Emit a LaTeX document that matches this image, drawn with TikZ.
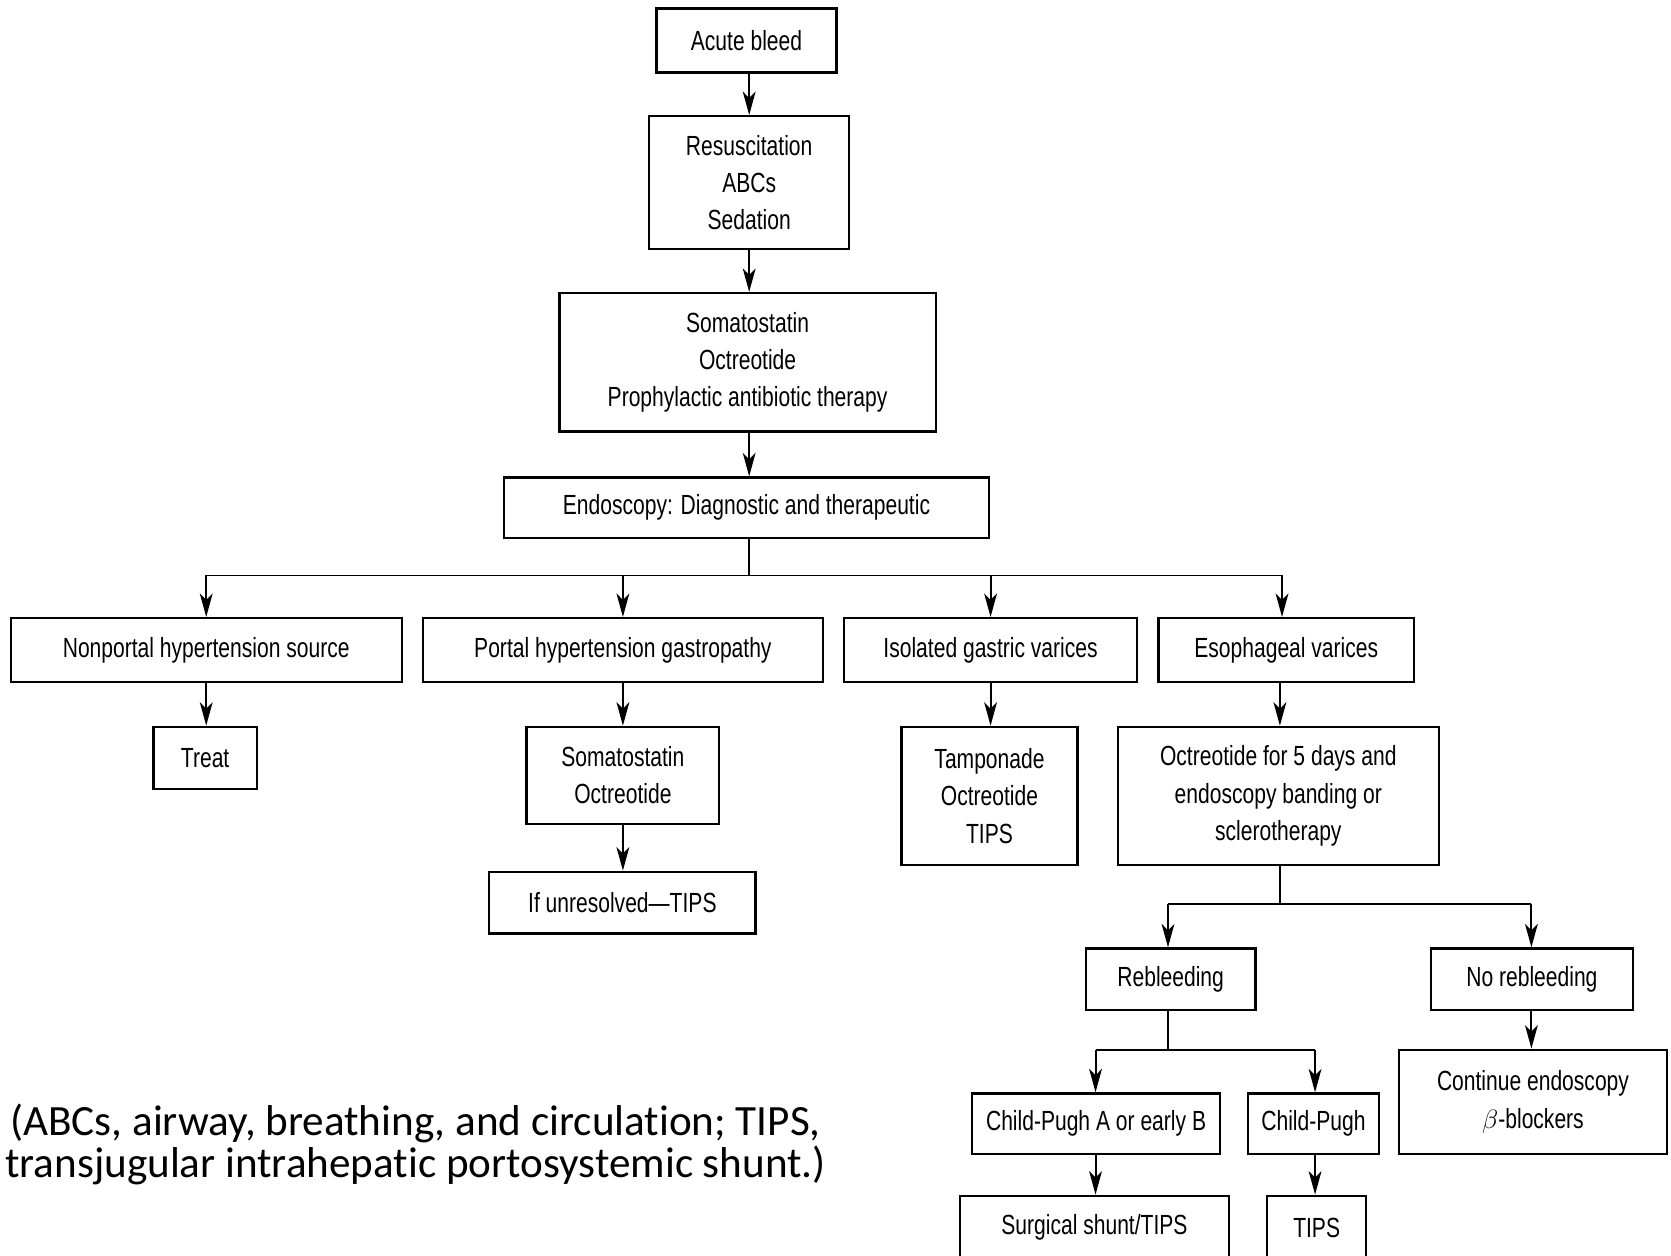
\documentclass[tikz,border=0pt]{standalone}
\usepackage{fontspec}
\setmainfont{Liberation Sans}
\newfontfamily\cond[FakeStretch=0.76]{Liberation Sans}
\newfontfamily\notefont[Ligatures=NoCommon]{Carlito}
\usetikzlibrary{arrows.meta}
\begin{document}
\begin{tikzpicture}[x=1pt,y=-1pt,
  box/.style={draw,line width=2.1pt,inner sep=0pt,align=center,
    font=\cond\fontsize{26}{35}\selectfont},
  arr/.style={line width=1.8pt,-{Stealth[length=22pt,width=12pt,inset=6pt]}},
  ln/.style={line width=1.8pt}]
\useasboundingbox (0,0) rectangle (1568,1178);
% nodes
\node[box,minimum width=169pt,minimum height=60pt] (acute) at (700.5,38) {Acute bleed};
\node[box,minimum width=188pt,minimum height=125pt] (resus) at (703,171.5) {Resuscitation\\ABCs\\Sedation};
\node[box,minimum width=353pt,minimum height=130pt] (soma) at (701.5,340) {Somatostatin\\Octreotide\\Prophylactic antibiotic therapy};
\node[box,minimum width=455pt,minimum height=57pt] (endo) at (700.5,476.5) {Endoscopy: Diagnostic and therapeutic};
\node[box,minimum width=367pt,minimum height=60pt] (nonp) at (193.5,610) {Nonportal hypertension source};
\node[box,minimum width=375pt,minimum height=60pt] (portal) at (584.5,610) {Portal hypertension gastropathy};
\node[box,minimum width=275pt,minimum height=60pt] (iso) at (929.5,610) {Isolated gastric varices};
\node[box,minimum width=240pt,minimum height=60pt] (eso) at (1207,610) {Esophageal varices};
\node[box,minimum width=97pt,minimum height=58pt] (treat) at (192.5,711) {Treat};
\node[box,minimum width=181pt,minimum height=91pt] (so2) at (584.5,727.5) {Somatostatin\\Octreotide};
\node[box,minimum width=250pt,minimum height=58pt] (unres) at (584,847) {If unresolved—TIPS};
\node[box,minimum width=165pt,minimum height=130pt] (tamp) at (928.5,747) {Tamponade\\Octreotide\\TIPS};
\node[box,minimum width=301pt,minimum height=130pt] (oct5) at (1199.5,747) {Octreotide for 5 days and\\endoscopy banding or\\sclerotherapy};
\node[box,minimum width=159pt,minimum height=58pt] (reb) at (1098.5,919) {Rebleeding};
\node[box,minimum width=189pt,minimum height=58pt] (noreb) at (1437.5,919) {No rebleeding};
\node[box,minimum width=233pt,minimum height=57pt] (cpa) at (1028.5,1054.5) {Child-Pugh A or early B};
\node[box,minimum width=123pt,minimum height=57pt] (cp) at (1232.5,1054.5) {Child-Pugh};
\node[box,minimum width=251pt,minimum height=98pt] (cont) at (1438.5,1034) {Continue endoscopy\\$\beta$-blockers};
\node[box,minimum width=252pt,minimum height=60pt] (surg) at (1027,1152) {Surgical shunt/TIPS};
\node[box,minimum width=93pt,minimum height=60pt] (tips) at (1235.5,1152) {TIPS};
\node[font=\notefont\fontsize{40.5}{40}\selectfont,align=center,inner sep=0pt] (fn) at (390,1074)
  {(ABCs, airway, breathing, and circulation; TIPS,\\transjugular intrahepatic portosystemic shunt.)};
% branch coordinates
\coordinate (c0) at (703,0);
\coordinate (b1) at (703,540);
\coordinate (e1) at (1203,540);
\coordinate (c5) at (1201,0);
\coordinate (b2) at (1201,848);
\coordinate (r1) at (1096,848);
\coordinate (r2) at (1437,848);
\coordinate (b3) at (1096,985);
\coordinate (q1) at (1028,985);
\coordinate (q2) at (1234,985);
% connectors
\draw[arr] (acute.south -| c0) -- (resus.north -| c0);
\draw[arr] (resus.south -| c0) -- (soma.north -| c0);
\draw[arr] (soma.south -| c0) -- (endo.north -| c0);
\draw[ln] (endo.south -| c0) -- (b1);
\draw[ln] (b1 -| nonp) -- (e1);
\draw[arr] (b1 -| nonp) -- (nonp.north);
\draw[arr] (b1 -| portal) -- (portal.north);
\draw[arr] (b1 -| iso) -- (iso.north);
\draw[arr] (e1) -- (eso.north -| e1);
\draw[arr] (nonp.south) -- (treat.north -| nonp.south);
\draw[arr] (portal.south) -- (so2.north);
\draw[arr] (so2.south) -- (unres.north -| so2.south);
\draw[arr] (iso.south) -- (tamp.north -| iso.south);
\draw[arr] (eso.south -| c5) -- (oct5.north -| c5);
\draw[ln] (oct5.south -| c5) -- (b2);
\draw[ln] (r1) -- (r2);
\draw[arr] (r1) -- (reb.north -| r1);
\draw[arr] (r2) -- (noreb.north -| r2);
\draw[ln] (reb.south -| b3) -- (b3);
\draw[ln] (q1) -- (q2);
\draw[arr] (q1) -- (cpa.north -| q1);
\draw[arr] (q2) -- (cp.north -| q2);
\draw[arr] (noreb.south -| r2) -- (cont.north -| r2);
\draw[arr] (cpa.south -| q1) -- (surg.north -| q1);
\draw[arr] (cp.south -| q2) -- (tips.north -| q2);
\end{tikzpicture}
\end{document}
